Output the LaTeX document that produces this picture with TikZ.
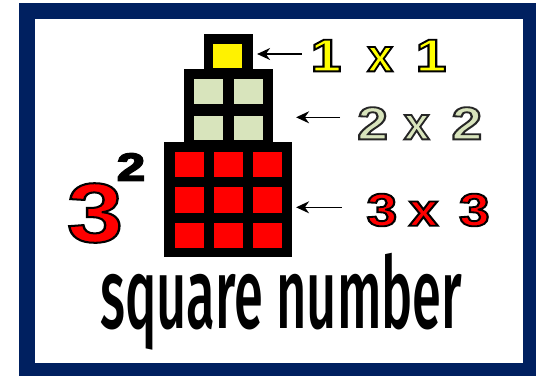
\documentclass[tikz,border=0pt]{standalone}
\usepackage{graphicx}
\usepackage{fontspec}
\setmainfont{Liberation Sans}
\newfontface\outfont{Liberation Sans Bold}[FakeBold=4]
\newfontface\bigfont{Liberation Sans Bold}[FakeBold=2.4]
\newfontfamily\handfont{Fira Sans}[UprightFont={* Medium}]
\usetikzlibrary{arrows.meta,calc}
\definecolor{navy}{RGB}{0,32,96}
\definecolor{sage}{RGB}{216,228,188}
\newcommand\wdig[1]{\scalebox{1.2}[1]{#1}}
% fill colour, rim colour, text
\newcommand\outl[3]{\special{pdf:bcolor #1 #2}#3\special{pdf:ecolor}}
\tikzset{
  block/.style={fill=black, inner sep=0pt, anchor=north west},
  numtext/.style={inner sep=0pt, anchor=west, font=\outfont\fontsize{46}{46}\selectfont},
  arr/.style={-{Stealth[length=13pt,width=12pt]}, line width=1.4pt},
}
\begin{document}
\begin{tikzpicture}[x=1pt,y=-1pt]
    \useasboundingbox (0,0) rectangle (536,376);
    % Frame
    \fill[navy] (19,3) rectangle (536,376);
    \fill[white] (35,19) rectangle (523,363);

    % Blocks
    \node[block, minimum width=49.4pt, minimum height=35pt] (one) at (203.3,34) {};
    \node[block, minimum width=88.7pt, minimum height=72.7pt] (two) at (184,69) {};
    \node[block, minimum width=127.7pt, minimum height=115.3pt] (three) at (164,141.7) {};

    \fill[yellow] (213.3,44) rectangle (242.3,68.3);
    \foreach \x in {194.3,234}
        \foreach \y in {79.3,115.7}
            \fill[sage] (\x,\y) rectangle ++(29,24.5);
    \foreach \x in {174.7,213.7,252.7}
        \foreach \y in {151.7,187.3,222.7}
            \fill[red] (\x,\y) rectangle ++(29,25.5);

    % Labels
    \node[numtext] (lab1) at (316.7,55.5) {\outl{[1 1 0]}{[0 0 0]}{%
        \makebox[18.3pt]{\wdig{1}}\hspace{30pt}\makebox[30pt]{x}\hspace{26.7pt}\makebox[18.3pt]{\wdig{1}}}};
    \node[numtext] (lab2) at (358,123.3) {\outl{[0.847 0.894 0.737]}{[0.15 0.15 0.15]}{%
        \makebox[29pt]{\wdig{2}}\hspace{16pt}\makebox[27pt]{x}\hspace{21.7pt}\makebox[30pt]{\wdig{2}}}};
    \node[numtext] (lab3) at (366.7,210) {\outl{[1 0 0]}{[0 0 0]}{%
        \makebox[30pt]{\wdig{3}}\hspace{10pt}\makebox[33.3pt]{\scalebox{1.15}[1]{x}}\hspace{20pt}\makebox[28.3pt]{\wdig{3}}}};
    \node[inner sep=0pt, font=\bigfont\fontsize{84}{84}\selectfont] (base) at (95,213)
        {\scalebox{1.2}[1]{\outl{[1 0 0]}{[0 0 0]}{3}}};
    \node[inner sep=0pt, font=\outfont\fontsize{39}{39}\selectfont] (expo) at (131,167)
        {\scalebox{1.3}[1]{\outl{[0 0 0]}{[0 0 0]}{2}}};
    \node[inner sep=0pt, anchor=north west] (title) at (100,253)
        {\resizebox*{362pt}{97pt}{\handfont square number}};

    % Arrows
    \coordinate (t1) at (301.7,54);
    \coordinate (t2) at (340,117.3);
    \coordinate (t3) at (341.7,207.3);
    \draw[arr] (t1) -- ($(t1 -| one.east)+(4,0)$);
    \draw[arr] (t2) -- ($(t2 -| three.east)+(4,0)$);
    \draw[arr] (t3) -- ($(t3 -| three.east)+(4,0)$);
\end{tikzpicture}
\end{document}
